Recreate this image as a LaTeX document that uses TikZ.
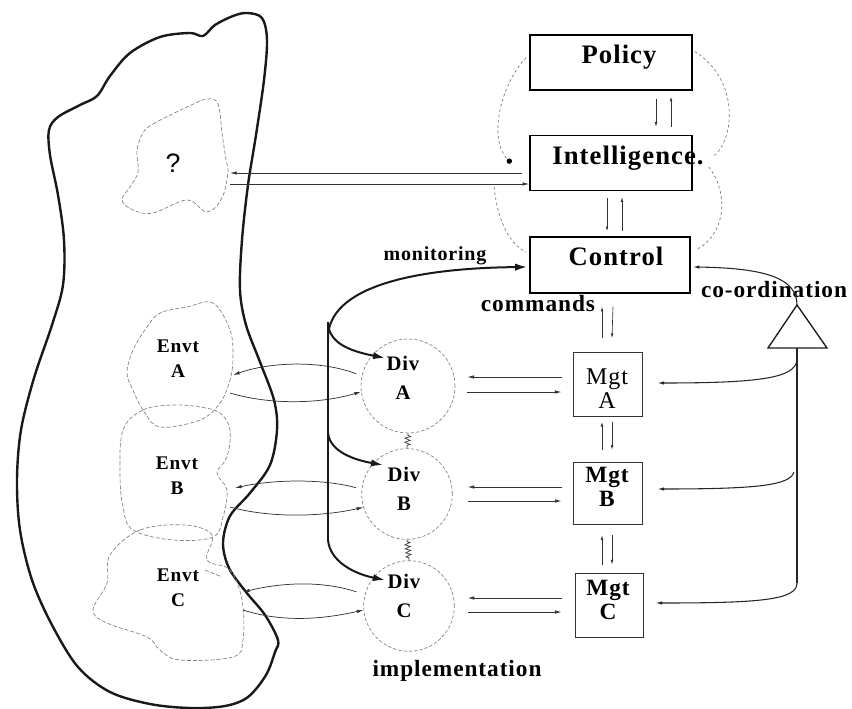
\documentclass[tikz,border=0pt]{standalone}
\usepackage{fontspec}
\setmainfont{Liberation Serif}
\newfontfamily\labfont[LetterSpace=4]{Liberation Serif}
\newfontfamily\qfont{Liberation Sans}
\usetikzlibrary{arrows.meta,calc,decorations.pathmorphing}

\begin{document}
\begin{tikzpicture}[x=0.75pt,y=-0.75pt,
  level/.style={draw, line width=1.2pt, minimum width=121.5pt, minimum height=41pt, inner sep=0pt},
  leveltext/.style={font=\labfont\bfseries\fontsize{20}{24}\selectfont, inner sep=0pt},
  tag/.style={font=\labfont\bfseries\fontsize{17.5}{21}\selectfont, inner sep=0pt},
  smalltag/.style={font=\labfont\bfseries\fontsize{15}{18}\selectfont, inner sep=0pt},
  mgt/.style={draw=black!80, line width=0.6pt, minimum width=51.75pt, minimum height=48pt, inner sep=0pt},
  mgttext/.style={align=center, inner sep=0pt, font=\labfont\bfseries\fontsize{17.5}{18}\selectfont},
  div/.style={circle, draw=black!50, dash pattern=on 2.5pt off 1.5pt, line width=0.5pt, minimum size=68pt, inner sep=0pt},
  divtext/.style={align=center, inner sep=0pt, font=\labfont\bfseries\fontsize{15.5}{22}\selectfont},
  envttext/.style={align=center, inner sep=0pt, font=\labfont\bfseries\fontsize{14.5}{19}\selectfont},
  region/.style={draw=black!50, dash pattern=on 3pt off 1.5pt, line width=0.5pt},
  guide/.style={draw=black!55, dash pattern=on 2pt off 2pt, line width=0.5pt},
  body/.style={draw=black!90, line width=1.8pt},
  tinyarr/.style={draw=black!80, line width=0.5pt, -{Latex[length=3.5pt,width=2pt]}},
  thinarr/.style={draw=black!80, line width=0.55pt, -{Latex[length=5pt,width=2.6pt]}},
  cmd/.style={draw=black!90, line width=1.5pt, -{Latex[length=9pt,width=5.5pt]}},
  spine/.style={draw=black!90, line width=1.1pt},
  coordln/.style={draw=black!85, line width=0.8pt},
  coordarr/.style={coordln, -{Latex[length=5pt,width=2.6pt]}},
  squiggle/.style={draw=black!75, line width=0.55pt, decorate,
    decoration={zigzag, amplitude=2pt, segment length=3pt, pre length=1.5pt, post length=1.5pt}}
]
\useasboundingbox (0,0) rectangle (852,709);

% ---------------- the organisation's environment ----------------
\draw[body] plot[smooth cycle, tension=0.55] coordinates {
  (247,13) (262,18) (267,40) (264,80) (256,135) (248,185) (242,240) (240,290)
  (246,325) (260,362) (274,400) (277,430) (270,465) (250,493) (230,516) (223,543)
  (229,568) (246,592) (265,615) (278,640) (275,652) (266,675) (248,697) (225,706)
  (190,708) (150,704) (110,692) (78,667) (52,625) (32,580) (20,530) (17,480)
  (21,430) (34,378) (52,325) (63,285) (64,240) (58,195) (50,155) (49,130)
  (58,117) (80,105) (97,96) (110,76) (130,53) (160,37) (190,33) (203,36)
  (215,25) (233,16)};

% future environment
\draw[region] plot[smooth cycle, tension=0.6] coordinates {
  (143,133) (153,124) (187,107) (207,99) (218,104) (222,133) (226,160) (228,172)
  (222,198) (207,212) (187,200) (153,213) (133,210) (122,200) (130,187) (138,172) (137,150)};
\node[font=\qfont\fontsize{20}{22}\selectfont, inner sep=0pt] (unknown) at (173,163) {?};

% environments of the divisions
\draw[region] plot[smooth cycle, tension=0.6] coordinates {
  (160,313) (187,307) (213,303) (230,330) (233,357) (230,380) (220,403) (200,420)
  (160,427) (143,410) (133,390) (127,373) (133,350) (147,327)};
\draw[region] plot[smooth cycle, tension=0.6] coordinates {
  (123,430) (143,410) (173,405) (200,407) (220,413) (230,430) (227,457) (217,473)
  (227,490) (223,517) (213,537) (173,540) (133,530) (123,507) (120,473)};
\draw[region] plot[smooth cycle, tension=0.6] coordinates {
  (110,555) (140,530) (185,525) (212,535) (207,560) (230,570) (242,600) (243,640)
  (233,657) (180,660) (160,650) (147,637) (107,623) (93,610) (107,583)};
\draw[region] (205,570) -- (222,577);

\node[envttext] (envtA) at (178,359) {Envt\\A};
\node[envttext] (envtB) at (177,476) {Envt\\B};
\node[envttext] (envtC) at (178,588) {Envt\\C};

% connector ends on the environment boundaries
\coordinate (qIn)  at (230,173);
\coordinate (qOut) at (230,184);
\coordinate (eA1) at (233,375);
\coordinate (eA2) at (230,393);
\coordinate (eB1) at (235,488);
\coordinate (eB2) at (230,507);
\coordinate (eC1) at (243,592);
\coordinate (eC2) at (243,610);

% ---------------- metasystem ----------------
\node[level] (policy) at (611,62.5) {};
\node[leveltext] (policyT) at (619,57) {Policy};
\node[level] (intel) at (611,163) {};
\node[leveltext] (intelT) at (628,158) {Intelligence.};
\node[level, minimum width=120pt, minimum height=42pt] (control) at (610,265) {};
\node[leveltext] (controlT) at (616,256) {Control};

% two-way links between the levels
\draw[tinyarr] ($(policy.south)+(45,8)$) -- ($(intel.north)+(45,-8)$);
\draw[tinyarr] ($(intel.north)+(60,-8)$) -- ($(policy.south)+(60,6)$);
\draw[tinyarr] ($(intel.south)+(-4,7)$) -- ($(control.north)+(-3,-5)$);
\draw[tinyarr] ($(control.north)+(12,-5)$) -- ($(intel.south)+(11,6)$);

% dotted loops of the metasystem
\draw[guide, -{Circle[length=4pt, color=black]}] ($(policy.west)+(-3,-5)$)
  .. controls (500,85) and (488,140) .. ($(intel.west)+(-18,0)$);
\draw[guide] ($(intel.west)+(-35,24)$) .. controls (497,220) and (510,245) .. ($(control.west)+(-3,-13)$);
\draw[guide] ($(policy.east)+(2,-11)$) .. controls (740,80) and (735,140) .. ($(intel.east)+(20,-6)$);
\draw[guide] ($(intel.east)+(16,4)$) .. controls (730,195) and (725,235) .. ($(control.east)+(5,-15)$);

% link with the unknown future environment
\draw[thinarr] ($(intel.west)+(-7,10)$) -- (qIn);
\draw[thinarr] (qOut) -- ($(intel.west)+(0,21)$);

% ---------------- management units ----------------
\node[mgt] (mgtA) at (607.5,384.5) {};
\node[mgttext, font=\labfont\fontsize{18}{18}\selectfont] (mgtAT) at (607,389) {Mgt\\A};
\node[mgt, minimum height=47pt] (mgtB) at (607.5,493.5) {};
\node[mgttext] (mgtBT) at (607,487) {Mgt\\B};
\node[mgt, minimum width=51pt] (mgtC) at (609,605) {};
\node[mgttext] (mgtCT) at (608,600) {Mgt\\C};

\draw[tinyarr] ($(mgtA.north)+(-5.5,-14)$) -- ($(control.south)+(-8,13)$);
\draw[tinyarr] ($(control.south)+(3,13)$) -- ($(mgtA.north)+(4.5,-14)$);
\draw[tinyarr] ($(mgtB.north)+(-5.5,-12)$) -- ($(mgtA.south)+(-5.5,5)$);
\draw[tinyarr] ($(mgtA.south)+(4.5,5)$) -- ($(mgtB.north)+(4.5,-12)$);
\draw[tinyarr] ($(mgtC.north)+(-7,-8)$) -- ($(mgtB.south)+(-5.5,10)$);
\draw[tinyarr] ($(mgtB.south)+(4.5,10)$) -- ($(mgtC.north)+(3,-8)$);

% ---------------- operating divisions ----------------
\node[div, minimum size=70.5pt] (divA) at (408,386) {};
\node[divtext] (divAT) at (403,378) {Div\\A};
\node[div] (divB) at (407,494) {};
\node[divtext] (divBT) at (404,489) {Div\\B};
\node[div] (divC) at (409,606) {};
\node[divtext] (divCT) at (404,596) {Div\\C};

\draw[squiggle] (divA.south) -- (divB.north);
\draw[squiggle] (divB.south) -- (divC.north);

% divisions and their managements
\draw[thinarr] ($(mgtA.west)+(-11,-7.5)$) -- ($(divA.east)+(12,-9)$);
\draw[thinarr] ($(divA.east)+(12,6)$) -- ($(mgtA.west)+(-11,7.5)$);
\draw[thinarr] ($(mgtB.west)+(-11,-6.5)$) -- ($(divB.east)+(15,-7)$);
\draw[thinarr] ($(divB.east)+(15,7)$) -- ($(mgtB.west)+(-11,7.5)$);
\draw[thinarr] ($(mgtC.west)+(-13,-7)$) -- ($(divC.east)+(13,-8)$);
\draw[thinarr] ($(divC.east)+(13,6)$) -- ($(mgtC.west)+(-13,7)$);

% divisions and their environments
\draw[thinarr] ([shift={(-6,0)}]divA.165) .. controls (320,360) and (270,362) .. (eA1);
\draw[thinarr] (eA2) .. controls (270,405) and (320,404) .. (divA.187);
\draw[thinarr] ([shift={(-6,0)}]divB.172) .. controls (320,478) and (270,480) .. (eB1);
\draw[thinarr] (eB2) .. controls (270,518) and (320,517) .. (divB.197);
\draw[thinarr] ([shift={(-9,0)}]divC.162) .. controls (320,580) and (280,583) .. (eC1);
\draw[thinarr] (eC2) .. controls (280,622) and (320,620) .. (divC.185);

% ---------------- monitoring and commands ----------------
\coordinate (spTop) at (328,322);
\coordinate (spB)   at (328,433);
\coordinate (spEnd) at (328,540);
\draw[spine] (spTop) -- (spEnd);
\draw[cmd] ($(spTop)+(0,18)$) .. controls (326,285) and (420,268) .. ($(control.west)+(-2,2)$);
\draw[cmd] (spTop) .. controls (328,345) and (355,352) .. ([shift={(-23,-28)}]divA.center);
\draw[cmd] (spB) .. controls (330,452) and (355,460) .. ([shift={(-24,-29)}]divB.center);
\draw[cmd] (spEnd) .. controls (330,562) and (355,574) .. ([shift={(-24,-26)}]divC.center);

\node[smalltag] (monT) at (435,256) {monitoring};
\node[tag] (cmdT) at (538,304) {commands};
\node[tag] (implT) at (457,671) {implementation};

% ---------------- co-ordination ----------------
\coordinate (triA) at (797,305);
\coordinate (triL) at (768,348);
\coordinate (triR) at (827,348);
\coordinate (triB) at (797,348);
\draw[draw=black!90, line width=1pt, line join=miter] (triA) -- (triL) -- (triR) -- cycle;
\node[tag] (coT) at (774,290) {co-ordination};

\draw[coordarr] (triA) .. controls (797,280) and (770,268) .. ($(control.east)+(2,2)$);
\coordinate (cA) at (797,360);
\coordinate (cB) at (794,472);
\coordinate (cEnd) at (797,583);
\draw[coordln] (triB) -- (cEnd);
\draw[coordarr] (cEnd) .. controls (797,600) and (760,603) .. ($(mgtC.east)+(12,-2)$);
\draw[coordarr] (cA) .. controls (795,378) and (760,383) .. ($(mgtA.east)+(15,-1.5)$);
\draw[coordarr] (cB) .. controls (790,485) and (760,489) .. ($(mgtB.east)+(15,-4.5)$);

\end{tikzpicture}
\end{document}
